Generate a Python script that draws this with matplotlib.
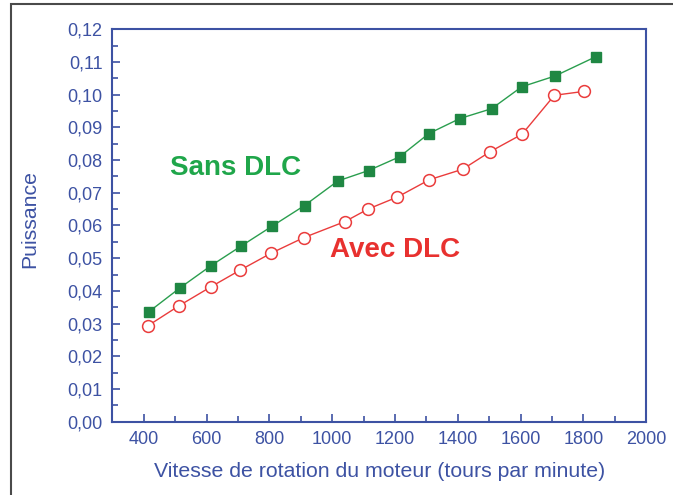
import matplotlib
matplotlib.use("Agg")
import matplotlib.pyplot as plt
from matplotlib.patches import Rectangle
from matplotlib.ticker import MultipleLocator, FuncFormatter

# vitesse (tr/min) et puissance
sans_x = [416, 515, 614, 710, 809, 912, 1018, 1116, 1215, 1308, 1407, 1508, 1604, 1710, 1840]
sans_y = [0.0336, 0.0409, 0.0477, 0.0537, 0.0598, 0.0661, 0.0736, 0.0768, 0.0810,
          0.0881, 0.0927, 0.0957, 0.1024, 0.1057, 0.1116]
avec_x = [414, 513, 613, 706, 805, 910, 1041, 1114, 1208, 1310, 1416, 1504, 1605, 1708, 1803]
avec_y = [0.0294, 0.0355, 0.0412, 0.0463, 0.0515, 0.0563, 0.0612, 0.0650, 0.0687,
          0.0740, 0.0772, 0.0826, 0.0879, 0.0998, 0.1010]

blue = "#3d52a3"
plt.rcParams['font.family'] = ['Liberation Sans', 'DejaVu Sans']

fig = plt.figure(figsize=(6.73, 4.95), dpi=100)
# cadre gris autour de la figure (seuls haut et gauche visibles)
fig.patches.append(Rectangle((11/673, -0.1), 1.2, (490.5/495) + 0.1, transform=fig.transFigure,
                             fill=False, edgecolor="#4a4a4a", linewidth=1.5))

ax = fig.add_axes([0.167, 0.148, 0.793, 0.793])
ax.plot(sans_x, sans_y, color="#2a9e4e", lw=1, marker="s", ms=7.5,
        markerfacecolor="#1f8743", markeredgecolor="#1f8743")
ax.plot(avec_x, avec_y, color="#ea3c3c", lw=1, marker="o", ms=8.5,
        markerfacecolor="white", markeredgecolor="#ea3c3c", markeredgewidth=1.1)

ax.text(482, 0.0776, "Sans DLC", color="#1fa64a", fontsize=20, fontweight="bold", va="center")
ax.text(994, 0.0525, "Avec DLC", color="#e8312f", fontsize=20, fontweight="bold", va="center")

ax.set_xlim(300, 2000)
ax.set_ylim(0, 0.12)
ax.xaxis.set_minor_locator(MultipleLocator(100))
ax.yaxis.set_major_locator(MultipleLocator(0.01))
ax.yaxis.set_minor_locator(MultipleLocator(0.005))
ax.set_xticks(range(400, 2001, 200))
ax.yaxis.set_major_formatter(FuncFormatter(lambda v, p: ("%.2f" % v).replace(".", ",")))

for s in ax.spines.values():
    s.set_color(blue)
    s.set_linewidth(1.5)
ax.tick_params(which="both", direction="in", color=blue, labelcolor=blue, width=1.2,
               top=False, right=False)
ax.tick_params(which="major", length=6, labelsize=13, pad=7)
ax.tick_params(which="minor", length=4)

ax.set_xlabel("Vitesse de rotation du moteur (tours par minute)", color=blue, fontsize=15.3, labelpad=10)
ax.set_ylabel("Puissance", color=blue, fontsize=15.3, va="center")
ax.yaxis.set_label_coords(-0.154, 0.517)

fig.savefig("out.png", dpi=100)
